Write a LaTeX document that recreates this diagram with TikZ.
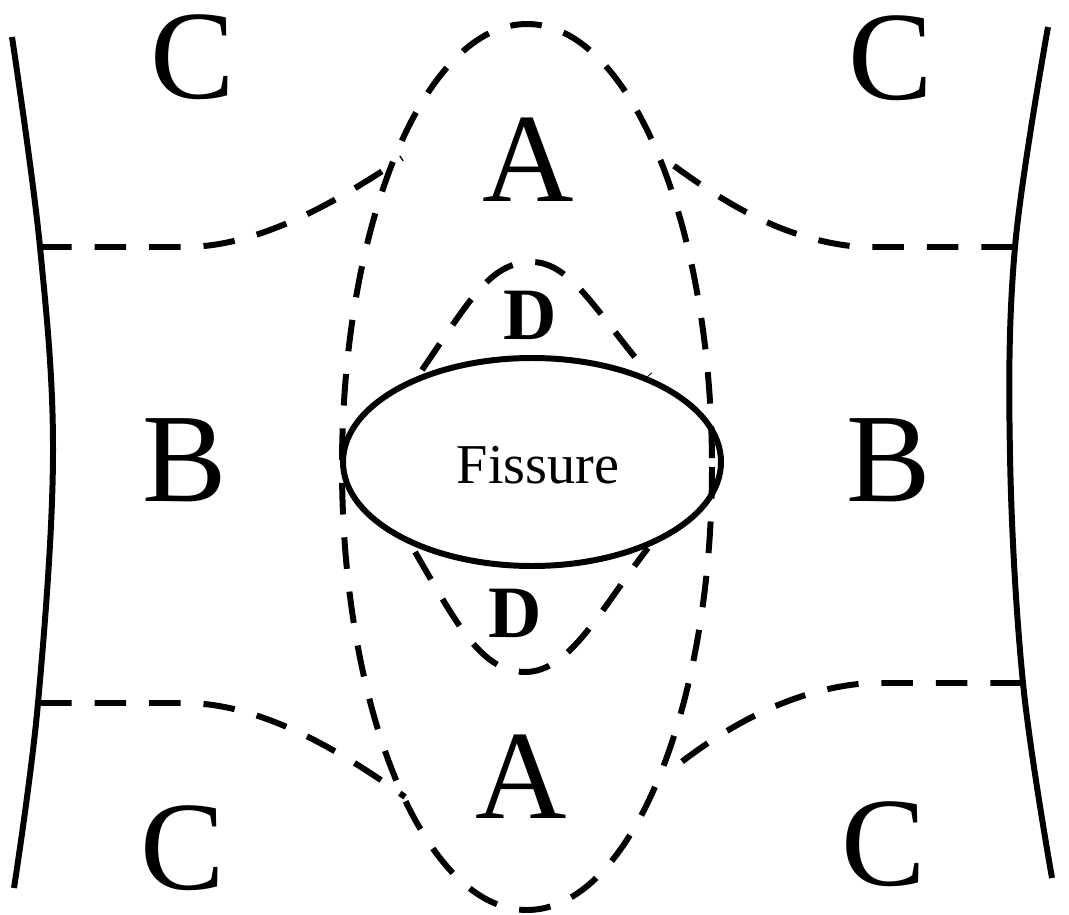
\documentclass[tikz,border=0pt]{standalone}
\usepackage{fontspec}
\setmainfont{Liberation Serif}

\begin{document}
\begin{tikzpicture}[x=0.01cm, y=-0.01cm,
    solidline/.style={line width=1.7pt},
    zoneline/.style={line width=1.7pt, dash pattern=on 9pt off 6.5pt},
    zone/.style={inner sep=0pt, font=\fontsize{36}{40}\selectfont},
    smallzone/.style={inner sep=0pt, font=\fontsize{21}{24}\selectfont\bfseries}]
    \useasboundingbox (0,0) rectangle (1069,915);

    % 1. solid side walls
    \draw[solidline] plot[smooth, tension=0.6] coordinates {(12,37) (40,247) (53,455) (38,703) (14,888)};
    \draw[solidline] plot[smooth, tension=0.6] coordinates {(1048,27) (1015,247) (1010,455) (1023,683) (1052,878)};

    % 2. outer dashed envelope
    \draw[zoneline] (527,467) ellipse (185 and 443);

    % 3. boundaries between B and C
    \draw[zoneline] (40,247) -- (185,247) .. controls (260,247) and (340,200) .. (402,158);
    \draw[zoneline] (1013,247) -- (860,247) .. controls (780,240) and (720,200) .. (662,157);
    \draw[zoneline] (40,703) -- (185,703) .. controls (260,703) and (340,750) .. (405,797);
    \draw[zoneline] (1022,683) -- (870,683) .. controls (790,688) and (720,730) .. (665,775);

    % 4. fissure
    \draw[solidline] (532,462) ellipse (189 and 104);
    \node (fissure) at (538,465) {\fontsize{16}{19}\selectfont Fissure};

    % 5. D zones above and below the fissure
    \draw[zoneline] (422,370) .. controls (470,300) and (490,262) .. (532,262)
        .. controls (572,262) and (600,318) .. (650,375);
    \draw[zoneline] (415,552) .. controls (455,620) and (480,672) .. (525,672)
        .. controls (570,672) and (600,610) .. (648,548);

    % 6. zone labels
    \node[zone] (cTL) at (193,57) {C};
    \node[zone] (cTR) at (891,58) {C};
    \node[zone] (aTop) at (528,160) {A};
    \node[smallzone] (dTop) at (530,315) {D};
    \node[zone] (bL) at (185,460) {B};
    \node[zone] (bR) at (889,460) {B};
    \node[smallzone] (dBot) at (515,613) {D};
    \node[zone] (aBot) at (521,777) {A};
    \node[zone] (cBL) at (183,848) {C};
    \node[zone] (cBR) at (884,844) {C};
\end{tikzpicture}
\end{document}
